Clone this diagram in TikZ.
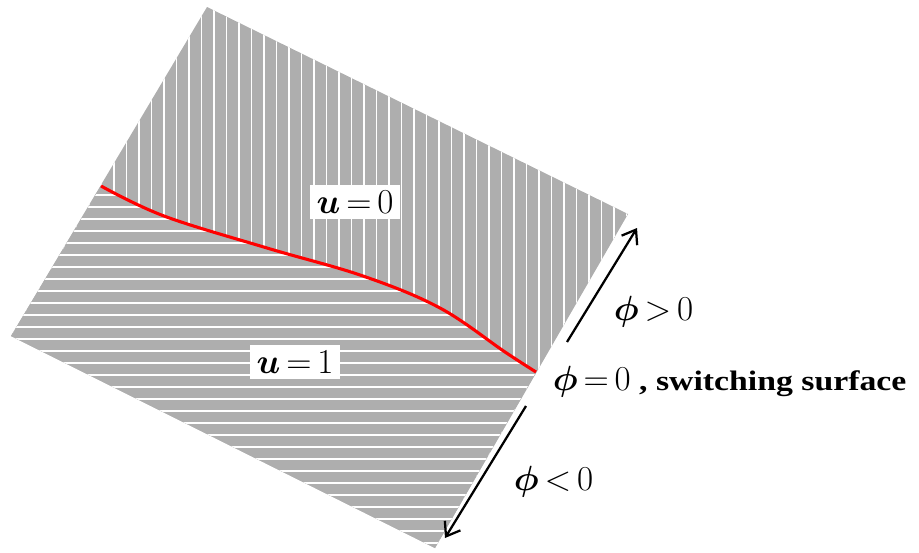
\documentclass[tikz,border=0pt]{standalone}
\usepackage{amsmath}
\usepackage{fontspec}
\setmainfont[FakeStretch=1.2]{Liberation Serif}
\usetikzlibrary{arrows.meta}
\definecolor{plategray}{RGB}{174,174,174}
\newcommand{\tightrel}{\thickmuskip=3mu\relax}

\begin{document}
\begin{tikzpicture}[x=0.025cm,y=-0.025cm,
  stripe/.style={white,line width=1.2pt},
  redline/.style={red,line width=2.2pt},
  signarrow/.style={-{Straight Barb[length=9pt,width=13pt]},line width=1.6pt},
  ulabel/.style={fill=white,inner xsep=5pt,inner ysep=4pt,font=\fontsize{24}{28}\selectfont\tightrel},
  philabel/.style={anchor=base west,font=\fontsize{27}{31}\selectfont\tightrel},
  switchcurve/.style={insert path={plot[smooth,tension=0.6] coordinates
    {(101,186) (164,216) (267,248) (363,276) (440,308) (505,352) (536,372)}}}]
\useasboundingbox (0,0) rectangle (919,552);

\coordinate (top) at (207,7);
\coordinate (rgt) at (628,214);
\coordinate (bot) at (435,548);
\coordinate (lft) at (11,336);

% region u=0, vertical stripes
\fill[plategray] (top) -- (rgt) -- (bot) -- (lft) -- cycle;
\begin{scope}
\clip (top) -- (rgt) -- (bot) -- (lft) -- cycle;
\foreach \x in {14,26.5,...,640} \draw[stripe] (\x,0) -- (\x,552);
\end{scope}

% region u=1, horizontal stripes
\fill[plategray,switchcurve] -- (bot) -- (lft) -- cycle;
\begin{scope}
\clip[switchcurve] -- (bot) -- (lft) -- cycle;
\foreach \y in {183,195,...,552} \draw[stripe] (0,\y) -- (640,\y);
\end{scope}

\draw[redline,switchcurve];

\coordinate (posfrom) at (567,342);
\coordinate (posto) at (637,228);
\coordinate (negfrom) at (526,406);
\coordinate (negto) at (445,538);
\draw[signarrow] (posfrom) -- (posto);
\draw[signarrow] (negfrom) -- (negto);

\node[ulabel] (uzero) at (355,202) {$\boldsymbol{u}=0$};
\node[ulabel] (uone) at (295,362) {$\boldsymbol{u}=1$};

\node[philabel] (phipos) at (609,320) {$\boldsymbol{\phi}>0$};
\node[philabel] (phizero) at (548,390) {$\boldsymbol{\phi}=0$\fontsize{20}{24}\selectfont\textbf{ , switching surface}};
\node[philabel] (phineg) at (509,490) {$\boldsymbol{\phi}<0$};
\end{tikzpicture}
\end{document}
